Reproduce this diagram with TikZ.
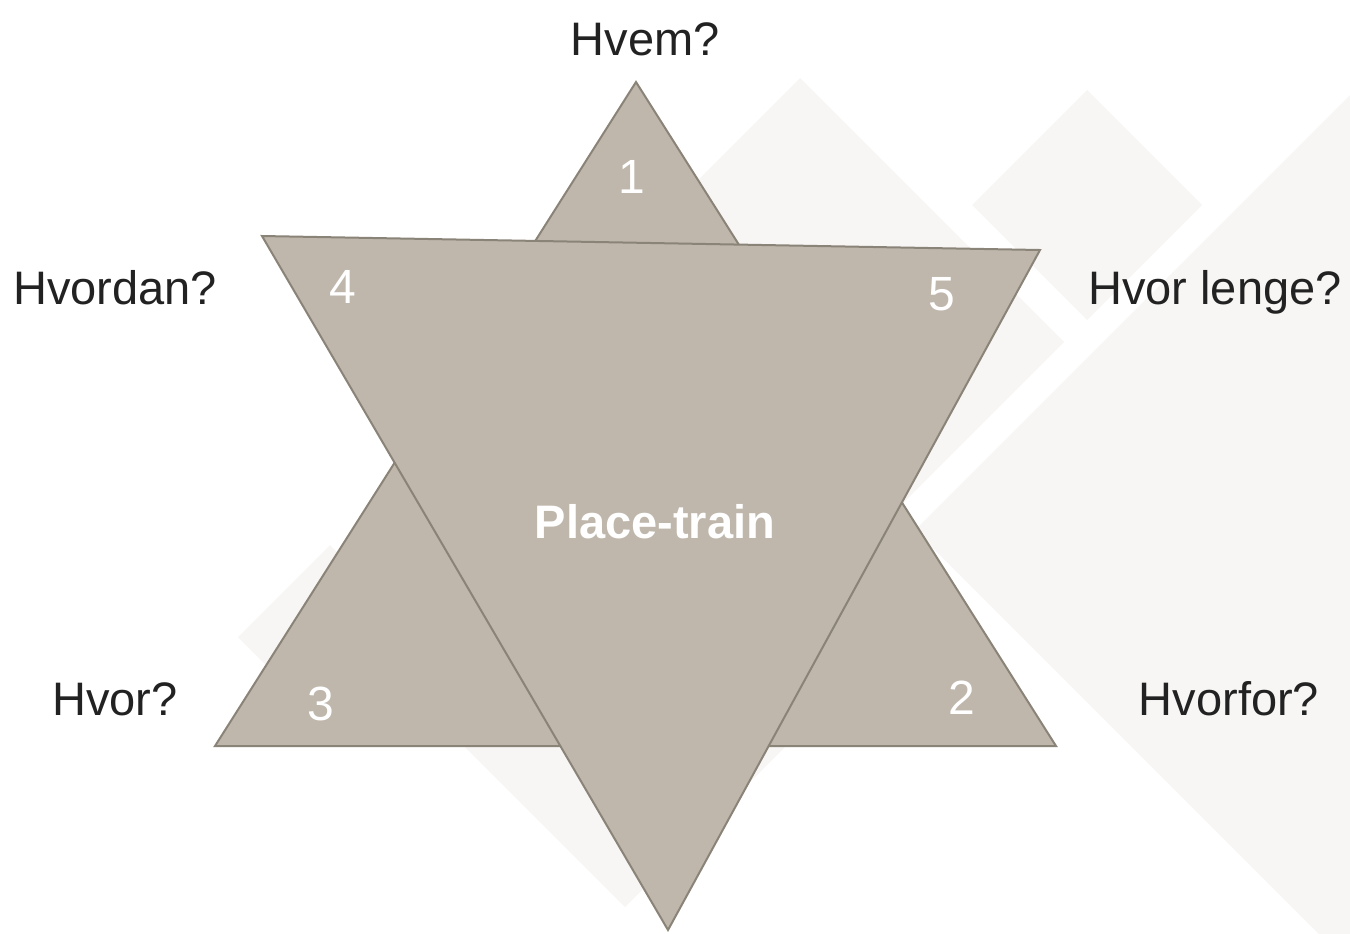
\documentclass[tikz,border=0pt]{standalone}
\usepackage{fontspec}
\setmainfont{Liberation Sans}
\definecolor{trifill}{HTML}{BFB7AC}
\definecolor{triline}{HTML}{8A8378}
\definecolor{bgdia}{HTML}{F7F6F4}
\definecolor{txt}{HTML}{222222}
\begin{document}
\begin{tikzpicture}[x=0.5pt,y=-0.5pt,
  tri/.style={fill=trifill,draw=triline,line width=1pt,line join=miter},
  dia/.style={fill=bgdia,draw=none},
  question/.style={anchor=base,text=txt,font=\fontsize{23.5}{28}\selectfont,inner sep=0pt},
  num/.style={anchor=base,text=white,font=\fontsize{24}{28}\selectfont,inner sep=0pt},
  titletext/.style={anchor=base,text=white,font=\fontsize{23.5}{28}\selectfont\bfseries,inner sep=0pt}]
\useasboundingbox (0,0) rectangle (1350,933);
% background diamonds
\begin{scope}
  \clip (0,0) rectangle (1350,933);
  \fill[dia] (800,78) -- (1064,342) -- (800,606) -- (536,342) -- cycle;
  \fill[dia] (1087,90) -- (1202,205) -- (1087,320) -- (972,205) -- cycle;
  \fill[dia] (915,530) -- (1415,30) -- (1915,530) -- (1415,1030) -- cycle;
  \fill[dia] (330,545) -- (422,637) -- (330,729) -- (238,637) -- cycle;
  \fill[dia] (625,379) -- (889,643) -- (625,907) -- (361,643) -- cycle;
\end{scope}
% triangle corners
\coordinate (upTop) at (636,82);
\coordinate (upRight) at (1056,746);
\coordinate (upLeft) at (215,746);
\coordinate (dnLeft) at (262,236);
\coordinate (dnRight) at (1040,250);
\coordinate (dnBottom) at (668,930);
% triangles
\draw[tri] (upTop) -- (upRight) -- (upLeft) -- cycle;
\draw[tri] (dnLeft) -- (dnRight) -- (dnBottom) -- cycle;
% numbers
\node[num] (n1) at (632,193) {1};
\node[num] (n4) at (343,303) {4};
\node[num] (n5) at (942,310) {5};
\node[num] (n3) at (321,720) {3};
\node[num] (n2) at (962,714) {2};
\node[titletext] (center) at (655,538) {Place-train};
% questions
\node[question] (qHvem) at (645,55) {Hvem?};
\node[question] (qHvordan) at (115,304) {Hvordan?};
\node[question] (qLenge) at (1215,304) {Hvor lenge?};
\node[question] (qHvor) at (115,715) {Hvor?};
\node[question] (qHvorfor) at (1229,715) {Hvorfor?};
\end{tikzpicture}
\end{document}
